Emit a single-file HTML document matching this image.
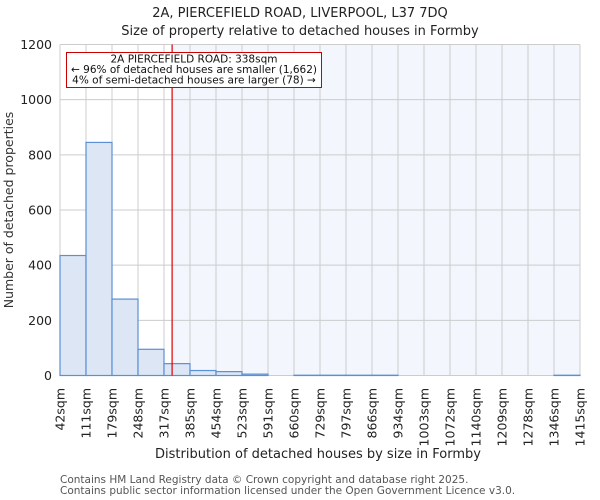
<!DOCTYPE html>
<html><head><meta charset="utf-8"><style>
body{margin:0;background:#fff}
svg{display:block;font-family:"DejaVu Sans","Liberation Sans",sans-serif}
</style></head><body>
<svg id="c" width="600" height="500" viewBox="0 0 600 500">
<text x="300" y="17" text-anchor="middle" font-size="13" fill="#222">2A, PIERCEFIELD ROAD, LIVERPOOL, L37 7DQ</text>
<text x="300" y="35" text-anchor="middle" font-size="13" fill="#222">Size of property relative to detached houses in Formby</text>
<g id="plot"></g>
<text x="318" y="458" text-anchor="middle" font-size="13" fill="#222">Distribution of detached houses by size in Formby</text>
<text transform="translate(13,210) rotate(-90)" text-anchor="middle" font-size="12.5" fill="#333">Number of detached properties</text>
<text x="60" y="483" font-size="10.5" fill="#555">Contains HM Land Registry data © Crown copyright and database right 2025.</text>
<text x="60" y="494" font-size="10.5" fill="#555">Contains public sector information licensed under the Open Government Licence v3.0.</text>
</svg>
<script>
const binLabels=["42sqm","111sqm","179sqm","248sqm","317sqm","385sqm","454sqm","523sqm","591sqm","660sqm","729sqm","797sqm","866sqm","934sqm","1003sqm","1072sqm","1140sqm","1209sqm","1278sqm","1346sqm","1415sqm"];
const counts=[435,845,277,95,43,18,14,5,0,1,1,1,1,0,0,0,0,0,0,1];
const yTicks=[0,200,400,600,800,1000,1200];
const markerValue=338;
const binStart=42, binEnd=1415;
const NS="http://www.w3.org/2000/svg";
const X0=60,X1=580,Y0=375.5,Y1=44.5,YMAX=1200;
const nb=counts.length;
const xb=i=>X0+(X1-X0)*i/nb;
const xv=v=>X0+(X1-X0)*(v-binStart)/(binEnd-binStart);
const y=v=>Y0-(Y0-Y1)*v/YMAX;
const g=document.getElementById('plot');
function mk(t,a){const e=document.createElementNS(NS,t);for(const k in a)e.setAttribute(k,a[k]);g.appendChild(e);return e;}
const mx=xv(markerValue);
let e=mk('rect',{x:mx,y:Y1,width:X1-mx,height:Y0-Y1,fill:'#f3f6fd'});


yTicks.forEach(t=>{
 let l=mk('line',{x1:X0,x2:X1,y1:y(t),y2:y(t),stroke:'#ccc','stroke-width':1});
 
 
 let tx=mk('text',{x:X0-8,y:y(t)+4.5,'text-anchor':'end','font-size':12.5,fill:'#222'});
 tx.textContent=t;
 
 
});
binLabels.forEach((s,i)=>{
 let l=mk('line',{x1:xb(i),x2:xb(i),y1:Y1,y2:Y0,stroke:'#ccc','stroke-width':1});
 
 
 let tx=mk('text',{transform:`translate(${xb(i)+4.5},388) rotate(-90)`,'text-anchor':'end','font-size':12.5,fill:'#222'});
 tx.textContent=s;
 
 
});
counts.forEach((c,i)=>{
 let r=mk('rect',{x:xb(i),y:y(c),width:xb(i+1)-xb(i),height:Y0-y(c),fill:'#dce6f4',stroke:'#5b8fd6','stroke-width':1.2});
 
 
});
e=mk('line',{x1:mx,x2:mx,y1:Y1,y2:Y0,stroke:'#d00','stroke-width':1.2});


e=mk('rect',{x:66.5,y:52.5,width:255,height:35,fill:'#fff',stroke:'#c00','stroke-width':1});


[["2A PIERCEFIELD ROAD: 338sqm",62.5],["← 96% of detached houses are smaller (1,662)",73],["4% of semi-detached houses are larger (78) →",83.5]].forEach(([s,yy])=>{
 let t=mk('text',{x:194,y:yy,'text-anchor':'middle','font-size':10.5,fill:'#111'});
 t.textContent=s;
 
 
});
</script>
</body></html>
